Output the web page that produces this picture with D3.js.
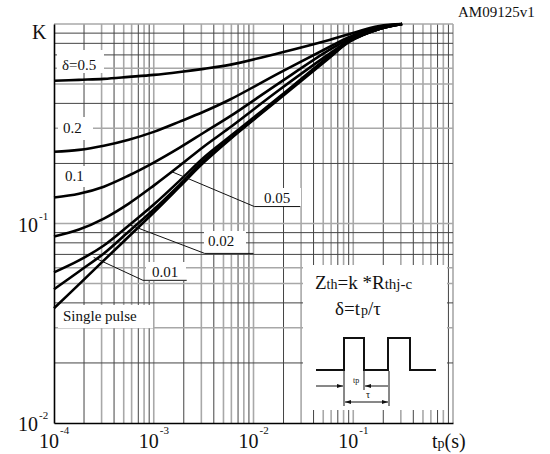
<!DOCTYPE html>
<html><head><meta charset="utf-8">
<script src="https://cdn.jsdelivr.net/npm/d3@7"></script>
<style>body{margin:0;background:#fff}svg text{font-family:"Liberation Serif","DejaVu Serif",serif;fill:#111}</style>
</head><body>
<svg id="c" width="550" height="454" font-family="Liberation Serif, DejaVu Serif, serif"></svg>
<script>
// ---- data ----
const tValues = [1e-4, 1.78e-4, 3.16e-4, 5.62e-4, 1e-3, 1.82e-3, 3.16e-3, 5.75e-3, 1.82e-2, 5.75e-2, 9.12e-2, 0.182, 0.309];
const kDelta05 = [0.519, 0.525, 0.531, 0.543, 0.556, 0.575, 0.596, 0.624, 0.716, 0.832, 0.891, 0.977, 1.0];
const kDelta02 = [0.229, 0.234, 0.2455, 0.263, 0.288, 0.324, 0.363, 0.417, 0.569, 0.767, 0.861, 0.966, 1.0];
const kDelta01 = [0.135, 0.141, 0.153, 0.174, 0.202, 0.240, 0.285, 0.343, 0.507, 0.741, 0.841, 0.955, 1.0];
const kDelta005 = [0.0861, 0.0933, 0.1059, 0.1259, 0.1549, 0.195, 0.2427, 0.302, 0.468, 0.708, 0.822, 0.944, 1.0];
const kDelta002 = [0.0569, 0.0653, 0.0776, 0.0977, 0.1245, 0.1641, 0.2138, 0.2723, 0.4315, 0.692, 0.822, 0.944, 1.0];
const kDelta001 = [0.0468, 0.0575, 0.0708, 0.0912, 0.1175, 0.1567, 0.2065, 0.266, 0.4266, 0.684, 0.818, 0.944, 1.0];
const kSingle = [0.0376, 0.0495, 0.0653, 0.0861, 0.1135, 0.153, 0.2018, 0.263, 0.4217, 0.676, 0.813, 0.944, 1.0];
const seriesList = [kDelta05, kDelta02, kDelta01, kDelta005, kDelta002, kDelta001, kSingle];
const xTickExps = [-4, -3, -2, -1];
const yTickExps = [-2, -1];
const xDecades = [-4, -3, -2, -1];
const yDecades = [-2, -1];

// ---- layout ----
const FONT = "Liberation Serif, DejaVu Serif, serif";
const svg = d3.select("#c");
const L = 54, R = 453, T = 24, B = 423;
const x = d3.scaleLog().domain([1e-4, 1]).range([L, R]);
const y = d3.scaleLog().domain([0.01, 1]).range([B, T]);

const dark = {stroke: "#444", w: 1}, light = {stroke: "#a8a8a8", w: 1.6};
const xShade = {1: light, 2: dark, 3: light, 4: dark, 5: light, 6: light, 7: dark, 8: light, 9: dark};
const yShade = {1: light, 2: dark, 3: light, 4: dark, 5: light, 6: light, 7: dark, 8: dark, 9: dark};

const grid = svg.append("g");
xDecades.forEach(d => {
  for (let m = 1; m <= 9; m++) {
    const v = m * Math.pow(10, d);
    if (m === 1 && d === -4) continue;
    const s = xShade[m];
    grid.append("line").attr("x1", x(v)).attr("x2", x(v)).attr("y1", T).attr("y2", B)
      .attr("stroke", s.stroke).attr("stroke-width", s.w);
  }
});
grid.append("line").attr("x1", x(1)).attr("x2", x(1)).attr("y1", T).attr("y2", B)
  .attr("stroke", light.stroke).attr("stroke-width", light.w);
yDecades.forEach(d => {
  for (let m = 1; m <= 9; m++) {
    const v = m * Math.pow(10, d);
    if (m === 1 && d === -2) continue;
    const s = yShade[m];
    grid.append("line").attr("x1", L).attr("x2", R).attr("y1", y(v)).attr("y2", y(v))
      .attr("stroke", s.stroke).attr("stroke-width", s.w);
  }
});
grid.append("line").attr("x1", L).attr("x2", R).attr("y1", y(1)).attr("y2", y(1))
  .attr("stroke", light.stroke).attr("stroke-width", light.w);

// white label backgrounds
const boxes = [
  [57, 50, 47, 23], [58, 117, 35, 23], [58, 166, 35, 21], [58, 305, 95, 23],
  [258, 188, 43, 19], [204, 231, 42, 23], [146, 262, 40, 19], [303, 265, 144, 145]
];
boxes.forEach(b => svg.append("rect").attr("x", b[0]).attr("y", b[1]).attr("width", b[2]).attr("height", b[3]).attr("fill", "#fff"));

// axes
const xAxis = d3.axisBottom(x).tickValues([]).tickSizeOuter(0);
svg.append("g").attr("transform", `translate(0,${B})`).call(xAxis)
  .select(".domain").attr("stroke", "#000").attr("stroke-width", 1.6);
const yAxis = d3.axisLeft(y).tickValues([]).tickSizeOuter(0);
svg.append("g").attr("transform", `translate(${L},0)`).call(yAxis)
  .select(".domain").attr("stroke", "#000").attr("stroke-width", 1.6);

// curves
const line = d3.line().x((d, i) => x(tValues[i])).y(d => y(d)).curve(d3.curveCatmullRom.alpha(0.5));
seriesList.forEach(s => svg.append("path").attr("d", line(s)).attr("fill", "none")
  .attr("stroke", "#000").attr("stroke-width", 2.6).attr("stroke-linejoin", "round"));

// leader lines (data coordinates)
const leaders = [
  {from: [1.51e-3, 0.182], to: [1.02e-2, 0.1216], end: 2.95e-2},
  {from: [5.6e-4, 0.0989], to: [3.24e-3, 0.0708], end: 1.0e-2},
  {from: [2.5e-4, 0.0676], to: [7.8e-4, 0.0519], end: 2.14e-3}
];
leaders.forEach(l => {
  svg.append("polyline").attr("points",
    [[x(l.from[0]), y(l.from[1])], [x(l.to[0]), y(l.to[1])], [x(l.end), y(l.to[1])]].map(p => p.join(",")).join(" "))
    .attr("fill", "none").attr("stroke", "#111").attr("stroke-width", 1);
});

function txt(xp, yp, size) {
  return svg.append("text").attr("x", xp).attr("y", yp).attr("font-size", size).attr("font-family", FONT).attr("fill", "#111");
}

// curve labels
const labels = [
  ["δ=0.5", 62, 70], ["0.2", 63, 133], ["0.1", 65, 181], ["Single pulse", 63, 321],
  ["0.05", 264, 203], ["0.02", 208, 246], ["0.01", 152, 277]
];
labels.forEach(l => txt(l[1], l[2], 15).text(l[0]));

// tick labels
xTickExps.forEach(e => {
  const t = txt(x(Math.pow(10, e)) - 15, 448, 20);
  t.append("tspan").text("10");
  t.append("tspan").attr("dy", -14).attr("dx", 1).attr("font-size", 11).text("-" + Math.abs(e));
});
yTickExps.forEach(e => {
  const t = txt(18, y(Math.pow(10, e)) + 8, 20);
  t.append("tspan").text("10");
  t.append("tspan").attr("dy", -12).attr("dx", 1).attr("font-size", 11).text("-" + Math.abs(e));
});
txt(32, 39, 20).text("K");
const xl = txt(432, 448, 20);
xl.append("tspan").text("t");
xl.append("tspan").attr("font-size", 14).text("p");
xl.append("tspan").text("(s)");
txt(458, 17, 15).text("AM09125v1");

// formula box
const f1 = txt(315, 289, 19);
f1.append("tspan").text("Z");
f1.append("tspan").attr("font-size", 14).text("th");
f1.append("tspan").text("=k *R");
f1.append("tspan").attr("font-size", 15).text("thj-c");
const f2 = txt(335, 315, 19);
f2.append("tspan").text("δ=t");
f2.append("tspan").attr("font-size", 14).attr("dx", 1).text("p");
f2.append("tspan").text("/τ");

// pulse illustration
svg.append("path").attr("d", "M316,370H344V338H364V370H388V338H410V370H436")
  .attr("fill", "none").attr("stroke", "#111").attr("stroke-width", 2);
const thin = [[344, 371, 344, 406], [364, 371, 364, 390], [389, 371, 389, 406]];
thin.forEach(a => svg.append("line").attr("x1", a[0]).attr("y1", a[1]).attr("x2", a[2]).attr("y2", a[3]).attr("stroke", "#111").attr("stroke-width", 1));
function arrow(x1, y1, x2, y2) {
  svg.append("line").attr("x1", x1).attr("y1", y1).attr("x2", x2).attr("y2", y2).attr("stroke", "#111").attr("stroke-width", 1);
  const dir = Math.sign(x2 - x1);
  svg.append("path").attr("d", `M${x2},${y2}L${x2 - dir * 6},${y2 - 2}L${x2 - dir * 6},${y2 + 2}Z`).attr("fill", "#111");
}
arrow(316, 386, 343, 386);
arrow(388, 386, 365, 386);
arrow(366, 402, 345, 402);
arrow(366, 402, 388, 402);
txt(353, 383, 8).text("tp");
txt(366, 398, 10).text("τ");
</script>
</body></html>
